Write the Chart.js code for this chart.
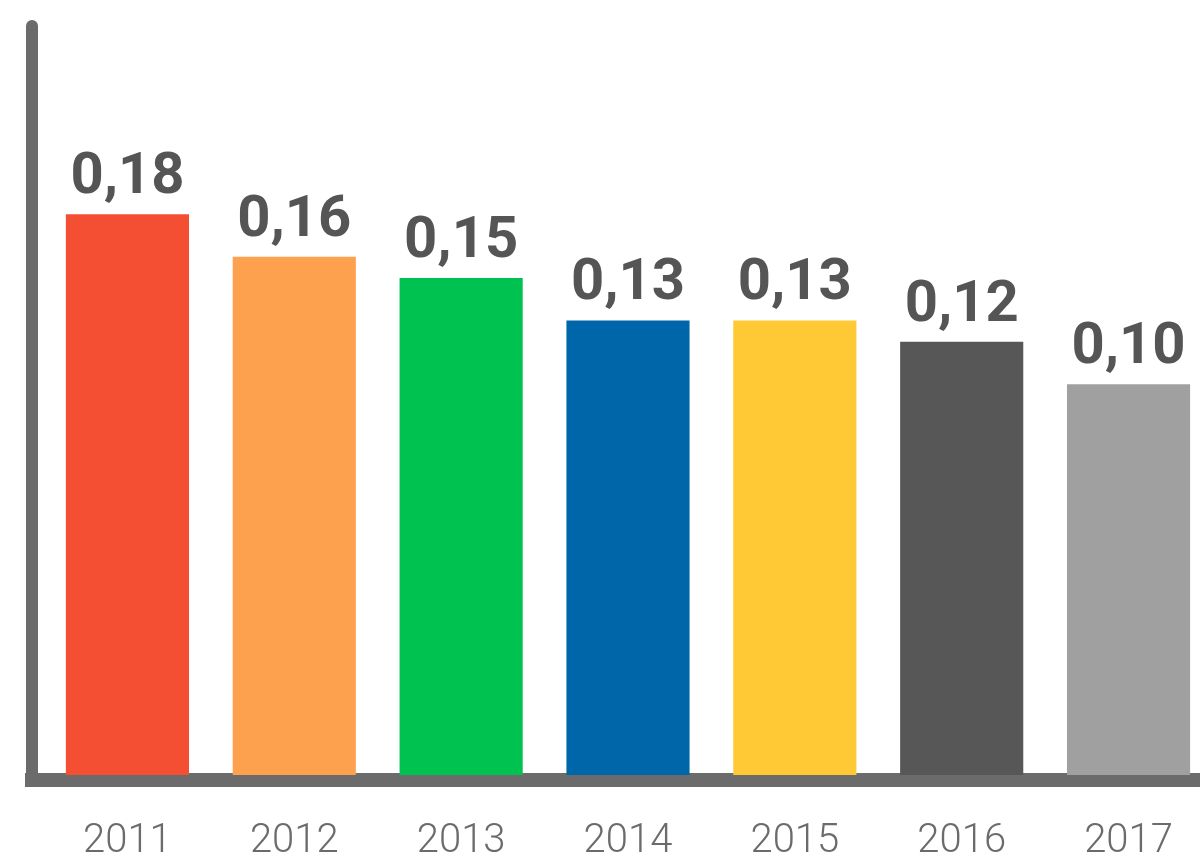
<!DOCTYPE html>
<html>
<head>
<meta charset="utf-8">
<script src="https://cdn.jsdelivr.net/npm/chart.js@4"></script>
<style>
  html, body { margin: 0; padding: 0; background: #fff; overflow: hidden; }
  #wrap { width: 1216px; height: 909px; }
</style>
</head>
<body>
<div id="wrap"><canvas id="chart"></canvas></div>
<script>
// datos del gráfico
const anios = ['2011', '2012', '2013', '2014', '2015', '2016', '2017'];
const valores = [0.18, 0.16, 0.15, 0.13, 0.13, 0.12, 0.10];
const colores = ['#F44E33', '#FDA14F', '#00C251', '#0066AA', '#FFC835', '#575757', '#A0A0A0'];

// base de las barras (el gráfico original no parte de cero)
const yMin = -0.084;
const yMax = 0.19;

// ejes dibujados a mano: línea vertical con punta redonda y línea horizontal
const ejes = {
    id: 'ejes',
    beforeDatasetsDraw(chart) {
        const { ctx, chartArea } = chart;
        ctx.save();
        ctx.strokeStyle = '#6b6b6b';
        ctx.lineCap = 'round';
        ctx.lineWidth = 12;
        ctx.beginPath();
        ctx.moveTo(chartArea.left - 12, 26);
        ctx.lineTo(chartArea.left - 12, chartArea.bottom + 6);
        ctx.stroke();
        ctx.lineCap = 'butt';
        ctx.lineWidth = 14;
        ctx.beginPath();
        ctx.moveTo(chartArea.left - 19, chartArea.bottom + 5);
        ctx.lineTo(chart.width, chartArea.bottom + 5);
        ctx.stroke();
        ctx.restore();
    }
};

// etiquetas de valor encima de cada barra
const etiquetas = {
    id: 'etiquetas',
    afterDatasetsDraw(chart) {
        const { ctx } = chart;
        const meta = chart.getDatasetMeta(0);
        ctx.save();
        ctx.fillStyle = '#555555';
        ctx.font = 'bold 58px Roboto';
        ctx.textAlign = 'center';
        ctx.textBaseline = 'alphabetic';
        meta.data.forEach((bar, i) => {
            const texto = valores[i].toFixed(2).replace('.', ',');
            ctx.fillText(texto, bar.x, bar.y - 21);
        });
        ctx.restore();
    }
};

new Chart(document.getElementById('chart'), {
    type: 'bar',
    data: {
        labels: anios,
        datasets: [{
            data: valores,
            backgroundColor: colores,
            base: yMin,
            borderWidth: 0,
            categoryPercentage: 1,
            barPercentage: 0.738
        }]
    },
    options: {
        responsive: true,
        maintainAspectRatio: false,
        animation: false,
        layout: { padding: { left: 44, right: 1, top: 193, bottom: 0 } },
        plugins: {
            legend: { display: false },
            tooltip: { enabled: false }
        },
        scales: {
            x: {
                grid: { display: false, drawTicks: false },
                border: { display: false },
                ticks: {
                    color: '#6b6b6b',
                    font: { family: 'Roboto', size: 40, weight: '300' },
                    padding: 43
                }
            },
            y: {
                display: false,
                min: yMin,
                max: yMax
            }
        }
    },
    plugins: [ejes, etiquetas]
});
</script>
</body>
</html>
